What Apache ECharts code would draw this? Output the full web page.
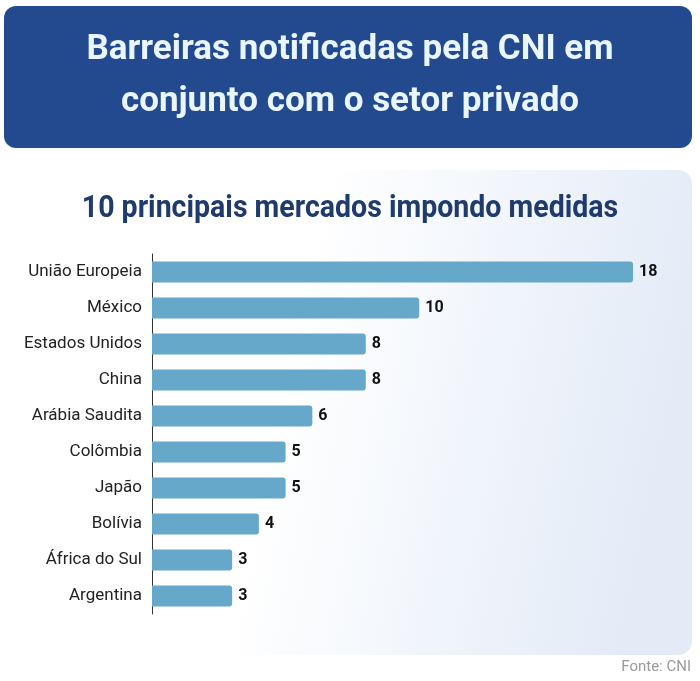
<!DOCTYPE html>
<html>
<head>
<meta charset="utf-8">
<script src="https://cdn.jsdelivr.net/npm/echarts@6/dist/echarts.min.js"></script>
<style>
html,body{margin:0;padding:0;background:#fff;}
#c{width:700px;height:681px;}
</style>
</head>
<body>
<div id="c"></div>
<script>
const titleLines = ["Barreiras notificadas pela CNI em", "conjunto com o setor privado"];
const subtitle = "10 principais mercados impondo medidas";
const categories = ["União Europeia", "México", "Estados Unidos", "China", "Arábia Saudita", "Colômbia", "Japão", "Bolívia", "África do Sul", "Argentina"];
const values = [18, 10, 8, 8, 6, 5, 5, 4, 3, 3];
const source = "Fonte: CNI";

const chart = echarts.init(document.getElementById('c'), null, {renderer: 'canvas'});
chart.setOption({
  animation: false,
  backgroundColor: '#ffffff',
  graphic: [
    { type: 'rect', z: -10, shape: {x: 4, y: 170, width: 688, height: 485, r: 14},
      style: { fill: new echarts.graphic.LinearGradient(0, 0, 1, 0.3, [
        {offset: 0, color: '#ffffff'}, {offset: 0.45, color: '#ffffff'}, {offset: 1, color: '#e3ebf7'}]) } },
    { type: 'rect', z: 5, shape: {x: 4, y: 6, width: 688, height: 142, r: 12}, style: {fill: '#234a8f'} },
    { type: 'text', z: 6, x: 350, y: 50, scaleX: 1.0, style: {
        text: titleLines[0], fill: '#eaf6ff', font: 'bold 35px Roboto', textAlign: 'center', textVerticalAlign: 'middle'} },
    { type: 'text', z: 6, x: 350, y: 102, scaleX: 1.0, style: {
        text: titleLines[1], fill: '#eaf6ff', font: 'bold 35px Roboto', textAlign: 'center', textVerticalAlign: 'middle'} },
    { type: 'text', z: 6, x: 350, y: 209, scaleX: 0.92, style: {
        text: subtitle, fill: '#1f3a6d', font: 'bold 31px Roboto', textAlign: 'center', textVerticalAlign: 'middle'} },
    { type: 'text', z: 6, right: 9, top: 660, style: {
        text: source, fill: '#9a9a9a', font: '15px Roboto'} }
  ],
  grid: { left: 152, top: 254, width: 481, height: 360, containLabel: false },
  xAxis: { type: 'value', min: 0, max: 18, show: false },
  yAxis: {
    type: 'category', data: categories, inverse: true,
    axisLine: { show: true, lineStyle: { color: '#333', width: 1 } },
    axisTick: { show: false },
    axisLabel: { color: '#222', fontFamily: 'Roboto', fontSize: 17, margin: 10 }
  },
  series: [{
    type: 'bar', data: values, barWidth: 21,
    itemStyle: { color: '#65a8c9', borderRadius: [0, 3, 3, 0] },
    label: { show: true, position: 'right', distance: 6, color: '#111', fontFamily: 'Roboto', fontWeight: 'bold', fontSize: 16 }
  }]
});
</script>
</body>
</html>
